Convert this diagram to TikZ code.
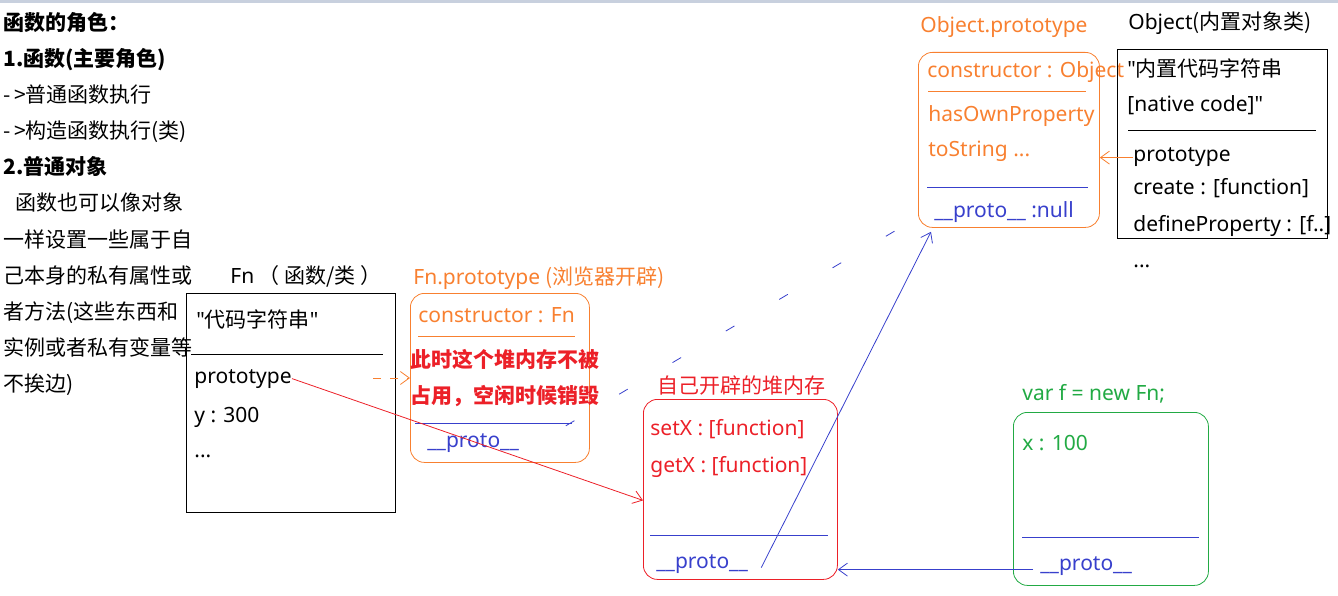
\documentclass[tikz,border=0pt]{standalone}
\usepackage{fontspec}
\setmainfont{Noto Sans}
\newfontfamily\cjk{Noto Sans CJK SC}
\newcommand{\zh}[1]{{\cjk #1}}
\usepackage{tikz}
\usetikzlibrary{arrows.meta}
\definecolor{objorange}{RGB}{248,128,48}
\definecolor{heapred}{RGB}{236,32,40}
\definecolor{protoblue}{RGB}{56,64,204}
\definecolor{newgreen}{RGB}{34,170,68}
\definecolor{topgray}{RGB}{200,208,222}

\begin{document}
\begin{tikzpicture}[x=1pt,y=-1pt,line width=0.8pt,font=\fontsize{21}{36}\selectfont,
	lbl/.style={anchor=base west, inner sep=0pt},
	zh/.style={lbl, font=\fontsize{21}{36}\selectfont\cjk},
	plainbox/.style={draw, anchor=north west, inner sep=0pt},
	heapbox/.style={plainbox, rounded corners=14pt},
	pile/.style={-{Straight Barb[length=9pt,width=13pt]}}]

	\useasboundingbox (0,0) rectangle (1338,596);
	\draw [topgray, line width=3pt] (0,1.5) -- (1338,1.5);

	% Notes
	\node[zh] (n1) at (3,31) {\bfseries 函数的角色：};
	\node[zh] (n2) at (3,67) {\bfseries 1.函数(主要角色)};
	\node[zh] (n3) at (3,103) {-\,>普通函数执行};
	\node[zh] (n4) at (3,139) {-\,>构造函数执行(类)};
	\node[zh] (n5) at (3,175) {\bfseries 2.普通对象};
	\node[zh] (n6) at (15,211) {函数也可以像对象};
	\node[zh] (n7) at (3,247) {一样设置一些属于自};
	\node[zh] (n8) at (3,283) {己本身的私有属性或};
	\node[zh] (n9) at (3,319) {者方法(这些东西和};
	\node[zh] (n10) at (3,355) {实例或者私有变量等};
	\node[zh] (n11) at (3,391) {不挨边)};

	% Fn
	\node[lbl] (fntitle) at (230,283) {Fn\zh{ （ 函数/类 ）}};
	\node[plainbox, minimum width=209pt, minimum height=219pt] (fn) at (186,293) {};
	\node[lbl] (fncode) at (196,327) {\textquotedbl\zh{代码字符串}\textquotedbl};
	\draw (191,354) -- (383,354);
	\node[lbl] (fnproto) at (194,383) {prototype};
	\node[lbl] (fny) at (194,422) {y : 300};
	\node[lbl] (fndots) at (194,457) {...};

	% Fn.prototype
	\node[lbl, text=objorange] (fptitle) at (413,284) {Fn.prototype \zh{(浏览器开辟)}};
	\node[heapbox, draw=objorange, minimum width=179pt, minimum height=169pt] (fp) at (410,293) {};
	\node[lbl, text=objorange] (fpcons) at (418,322) {constructor : Fn};
	\draw [objorange] (418,336) -- (575,336);
	\node[zh, text=heapred] (fpnote1) at (410,367) {\bfseries 此时这个堆内存不被};
	\node[zh, text=heapred] (fpnote2) at (410,403) {\bfseries 占用，空闲时候销毁};
	\draw [protoblue] (415,423) -- (572,423);
	\node[lbl, text=protoblue] (fpproto) at (427,447) {\_\_proto\_\_};

	% Own heap
	\node[lbl, text=heapred] (sftitle) at (657,393) {\zh{自己开辟的堆内存}};
	\node[heapbox, draw=heapred, minimum width=194pt, minimum height=180pt] (sf) at (643,399) {};
	\node[lbl, text=heapred] (sfset) at (650,435) {setX : [function]};
	\node[lbl, text=heapred] (sfget) at (650,472) {getX : [function]};
	\draw [protoblue] (650,535) -- (828,535);
	\node[lbl, text=protoblue] (sfproto) at (656,568) {\_\_proto\_\_};

	% Object.prototype
	\node[lbl, text=objorange] (optitle) at (920,33) {Object.prototype};
	\node[heapbox, draw=objorange, minimum width=181pt, minimum height=175pt] (op) at (918,52) {};
	\node[lbl, text=objorange] (opcons) at (927,78) {constructor : Object};
	\draw [objorange] (928,91) -- (1086,91);
	\node[lbl, text=objorange] (ophas) at (928,122) {hasOwnProperty};
	\node[lbl, text=objorange] (opstr) at (928,157) {toString ...};
	\draw [protoblue] (927,187) -- (1088,187);
	\node[lbl, text=protoblue] (opproto) at (934,218) {\_\_proto\_\_ :null};

	% Object
	\node[lbl] (objtitle) at (1128,30) {Object\zh{(内置对象类)}};
	\node[plainbox, minimum width=210pt, minimum height=189pt] (obj) at (1117,49) {};
	\node[lbl] (objcode) at (1127,77) {\textquotedbl\zh{内置代码字符串}};
	\node[lbl] (objnative) at (1127,112) {[native code]\textquotedbl};
	\draw (1128,130) -- (1316,130);
	\node[lbl] (objproto) at (1133,162) {prototype};
	\node[lbl] (objcreate) at (1133,195) {create : [function]};
	\node[lbl] (objdef) at (1133,232) {defineProperty : [f..]};
	\node[lbl] (objdots) at (1133,267) {...};

	% var f
	\node[lbl, text=newgreen] (nftitle) at (1022,400) {var f = new Fn;};
	\node[heapbox, draw=newgreen, minimum width=195pt, minimum height=173pt] (nf) at (1013,412) {};
	\node[lbl, text=newgreen] (nfx) at (1022,450) {x : 100};
	\draw [protoblue] (1022,537) -- (1199,537);
	\node[lbl, text=protoblue] (nfproto) at (1040,570) {\_\_proto\_\_};

	% Links
	\coordinate (fpin) at (373,378);
	\coordinate (nfout) at ([xshift=-7pt,yshift=-4pt]nfproto.west);
	\draw [pile, heapred] (fnproto.east) -- ([yshift=-11pt]sf.west);
	\draw [pile, objorange, dash pattern=on 8pt off 9pt] (fpin) -- (fpin -| fp.west);
	\draw [pile, protoblue] ([xshift=13pt,yshift=-4pt]sfproto.east) -- ([xshift=13pt,yshift=-4pt]op.south west);
	\draw [pile, protoblue] (nfout) -- (nfout -| sf.east);
	\draw [pile, objorange] (objproto.west) -- (objproto.west -| op.east);
	\draw [protoblue, dash pattern=on 10pt off 52pt] ([xshift=-24pt,yshift=37pt]fp.south east) -- ([xshift=-6pt,yshift=7pt]op.south west);

\end{tikzpicture}
\end{document}
